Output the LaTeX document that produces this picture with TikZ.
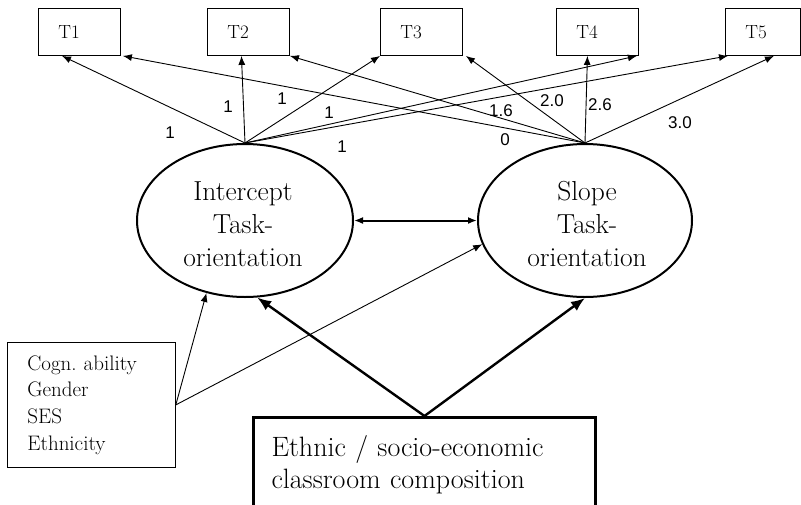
\documentclass[tikz,border=0pt]{standalone}
\usepackage{fontspec}
\setsansfont{Liberation Sans}
\usetikzlibrary{positioning, calc, arrows.meta, shapes.geometric}

\tikzset{
  tbox/.style={draw, line width=0.9pt, anchor=north west, text width=42pt, inner xsep=20pt,
    minimum height=47pt, align=left, font=\fontsize{19}{20}\selectfont},
  latent/.style={draw, ellipse, line width=2pt, inner sep=0pt},
  lattext/.style={align=center, font=\fontsize{27.5}{33}\selectfont},
  wlabel/.style={font=\sffamily\fontsize{17}{17}\selectfont, inner sep=1pt},
  load/.style={->, line width=0.9pt},
  pred/.style={-{Latex[length=14pt, width=11pt]}, line width=2.4pt}
}

\begin{document}
\begin{tikzpicture}[x=1pt, y=-1pt, >={Latex[length=9pt, width=7pt]}]

\useasboundingbox (0,0) rectangle (801,504);

%% -- indicator boxes ------------------------------------------------
\node[tbox] (T1) at (38,8) {T1};
\node[tbox] (T2) at (207,8) {T2};
\node[tbox] (T3) at (380,8) {T3};
\node[tbox] (T4) at (556,8) {T4};
\node[tbox, text width=35pt] (T5) at (725,8) {T5};

%% -- latent growth factors ------------------------------------------
\node[latent, minimum width=216pt, minimum height=153pt] (Lint) at (245,220.5) {};
\node[latent, minimum width=214pt, minimum height=153pt] (Rslp) at (585,220.5) {};
\node[lattext] (Ltxt) at (243,224) {Intercept\\Task-\\orientation};
\node[lattext] (Rtxt) at (587,224) {Slope\\Task-\\orientation};

%% -- predictor boxes ------------------------------------------------
\node[draw, line width=0.8pt, anchor=north west, text width=128pt, inner xsep=20pt,
  minimum height=125pt, align=left, font=\fontsize{21}{26.7}\selectfont] (cov) at (7,342)
  {Cogn.\ ability\\Gender\\SES\\Ethnicity};
\node[draw, line width=3pt, anchor=north west, text width=306pt, inner xsep=18pt,
  minimum height=94pt, align=left, font=\fontsize{28}{32}\selectfont] (comp) at (252,416)
  {Ethnic / socio-economic\\classroom composition};

%% -- intercept loadings ---------------------------------------------
\draw[load] (Lint.north) -- ($(T1.south west)+(24,0)$);
\draw[load] (Lint.north) -- ($(T2.south)+(-7,0)$);
\draw[load] (Lint.north) -- (T3.south west);
\draw[load] (Lint.north) -- ($(T4.south east)+(-2,0)$);
\draw[load] (Lint.north) -- ($(T5.south west)+(3,0)$);

%% -- slope loadings -------------------------------------------------
\draw[load] (Rslp.north) -- ($(T1.south east)+(2,0)$);
\draw[load] (Rslp.north) -- (T2.south east);
\draw[load] (Rslp.north) -- ($(T3.south east)+(3,0)$);
\draw[load] (Rslp.north) -- ($(T4.south)+(-10,0)$);
\draw[load] (Rslp.north) -- ($(T5.south)+(11,0)$);

%% -- loading values -------------------------------------------------
\node[wlabel] (i1) at (170,133) {1};
\node[wlabel] (i2) at (228,107) {1};
\node[wlabel] (i3) at (282,99) {1};
\node[wlabel] (i4) at (329,113) {1};
\node[wlabel] (i5) at (342,147) {1};
\node[wlabel] (s1) at (505,140) {0};
\node[wlabel] (s2) at (501,111) {1.6};
\node[wlabel] (s3) at (552,101) {2.0};
\node[wlabel] (s4) at (600,105) {2.6};
\node[wlabel] (s5) at (680,123) {3.0};

%% -- factor covariance ----------------------------------------------
\draw[<->, line width=2pt] (Lint.east) -- (Rslp.west);

%% -- predictors -----------------------------------------------------
\draw[load] (cov.east) -- (Lint.242);
\draw[load] (cov.east) -- (Rslp.193);
\draw[pred] (comp.north) -- (Lint.279);
\draw[pred] (comp.north) -- (Rslp.south);

\end{tikzpicture}
\end{document}
